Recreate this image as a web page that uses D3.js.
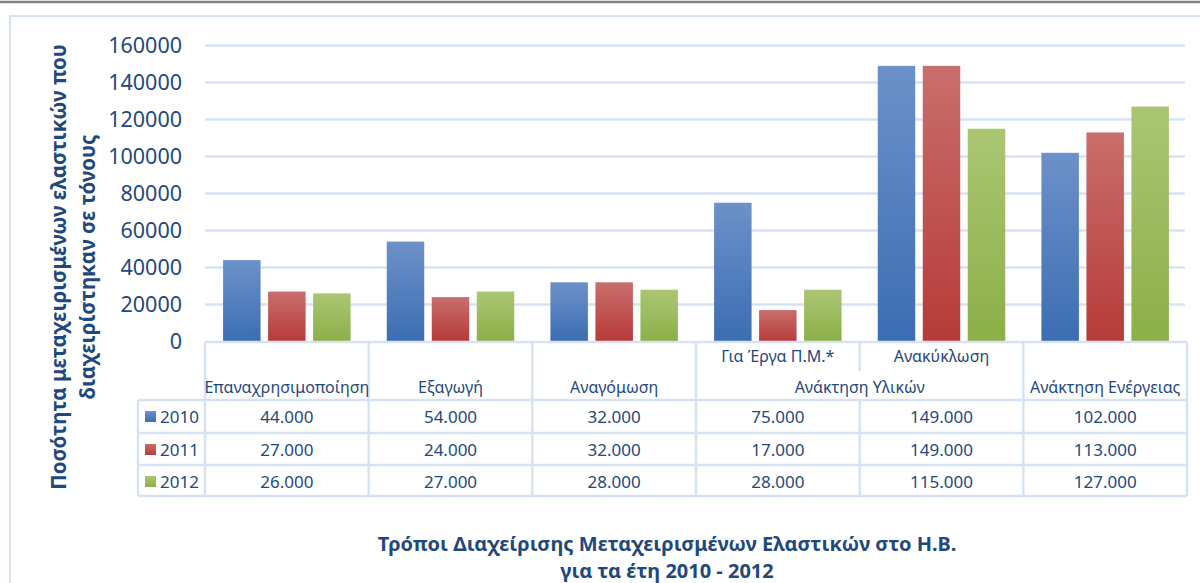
<!DOCTYPE html>
<html>
<head>
<meta charset="utf-8">
<script src="https://cdn.jsdelivr.net/npm/d3@7"></script>
<style>
  body { margin: 0; background: #fff; }
  svg { display: block; font-family: "Noto Sans", "Open Sans", sans-serif; }
</style>
</head>
<body>
<div id="chart"></div>
<script>
// data
var categories = ["Επαναχρησιμοποίηση", "Εξαγωγή", "Αναγόμωση", "Για Έργα Π.Μ.*", "Ανακύκλωση", "Ανάκτηση Ενέργειας"];
var upperLabels = ["Για Έργα Π.Μ.*", "Ανακύκλωση"];   // these sit on the upper line of the header
var groupLabel = "Ανάκτηση Υλικών";                  // spans the two above
var years = ["2010", "2011", "2012"];
var values2010 = [44000, 54000, 32000, 75000, 149000, 102000];
var values2011 = [27000, 24000, 32000, 17000, 149000, 113000];
var values2012 = [26000, 27000, 28000, 28000, 115000, 127000];
var yTicks = [0, 20000, 40000, 60000, 80000, 100000, 120000, 140000, 160000];
var yTitle = ["Ποσότητα μεταχειρισμένων ελαστικών που", "διαχειρίστηκαν σε τόνους"];
var title = ["Τρόποι Διαχείρισης Μεταχειρισμένων Ελαστικών στο Η.Β.", "για τα έτη 2010 - 2012"];

var series = [values2010, values2011, values2012];

var W = 1200, H = 583;
var textColor = "#1f497d";
var lineColor = "#d7e3f3";

var svg = d3.select("#chart")
  .append("svg")
    .attr("width", W)
    .attr("height", H);

// gradients for each series
var grads = [
  {id: "g2010", top: "#6d91c9", bottom: "#3b6db3"},
  {id: "g2011", top: "#c96e6c", bottom: "#b63b39"},
  {id: "g2012", top: "#abc673", bottom: "#8caf48"}
];
var defs = svg.append("defs");
grads.forEach(function(g) {
  var lg = defs.append("linearGradient")
    .attr("id", g.id)
    .attr("x1", 0).attr("y1", 0).attr("x2", 0).attr("y2", 1);
  lg.append("stop").attr("offset", "0%").attr("stop-color", g.top);
  lg.append("stop").attr("offset", "100%").attr("stop-color", g.bottom);
});

// top grey rule and chart frame
svg.append("line")
  .attr("x1", 0).attr("x2", W)
  .attr("y1", 2).attr("y2", 2)
  .attr("stroke", "#808080")
  .attr("stroke-width", 2.5);

svg.append("rect")
  .attr("x", 10).attr("y", 16)
  .attr("width", W + 20).attr("height", H)
  .attr("fill", "none")
  .attr("stroke", lineColor)
  .attr("stroke-width", 2);

// scales
var x = d3.scaleBand()
  .domain(categories)
  .range([205, 1187])
  .padding(0);

var x1 = d3.scaleBand()
  .domain(years)
  .range([0, x.bandwidth()])
  .paddingInner(0.167)
  .paddingOuter(0.402);

var y = d3.scaleLinear()
  .domain([0, 160000])
  .range([341.5, 45.5]);

// gridlines
svg.append("g")
  .selectAll("line")
  .data(yTicks.slice(1))
  .enter()
  .append("line")
    .attr("x1", 205)
    .attr("x2", 1185)
    .attr("y1", function(d) { return y(d); })
    .attr("y2", function(d) { return y(d); })
    .attr("stroke", lineColor)
    .attr("stroke-width", 2.5);

// Y axis labels
var yAxis = svg.append("g")
  .attr("transform", "translate(182,0)")
  .call(d3.axisLeft(y).tickValues(yTicks).tickFormat(d3.format("d")).tickSize(0).tickPadding(0));
yAxis.select(".domain").remove();
yAxis.selectAll("text")
  .attr("fill", textColor)
  .style("font-size", "21.5px")
  .style("font-family", "'Noto Sans', sans-serif");

// bars
var groups = svg.append("g")
  .selectAll("g")
  .data(categories)
  .enter()
  .append("g")
    .attr("transform", function(d) { return "translate(" + x(d) + ",0)"; });

groups.selectAll("rect")
  .data(function(d, i) { return years.map(function(yr, k) { return {year: yr, value: series[k][i], k: k}; }); })
  .enter()
  .append("rect")
    .attr("x", function(d) { return x1(d.year); })
    .attr("y", function(d) { return y(d.value); })
    .attr("width", x1.bandwidth())
    .attr("height", function(d) { return y(0) - y(d.value); })
    .attr("fill", function(d) { return "url(#" + grads[d.k].id + ")"; });

// ---------------------------//
//       DATA TABLE           //
// ---------------------------//
var headTop = 342, headBottom = 400, tableLeft = 138;
var rowTops = [400, 433, 465];
var tableBottom = 496;
var splitY = 371;

var table = svg.append("g")
  .attr("stroke", lineColor)
  .attr("stroke-width", 2.5);

// header top (category axis line)
table.append("line")
  .attr("x1", 205).attr("x2", 1187)
  .attr("y1", headTop).attr("y2", headTop);

// row lines
table.selectAll("hrow")
  .data(rowTops.concat([tableBottom]))
  .enter()
  .append("line")
    .attr("x1", tableLeft).attr("x2", 1187)
    .attr("y1", function(d) { return d; })
    .attr("y2", function(d) { return d; });

// vertical lines
var edges = categories.map(function(c) { return x(c); }).concat([x.range()[1]]);
table.selectAll("vcol")
  .data(edges)
  .enter()
  .append("line")
    .attr("x1", function(d) { return d; })
    .attr("x2", function(d) { return d; })
    .attr("y1", function(d, i) { return i === 4 ? headBottom : headTop; })
    .attr("y2", tableBottom);
// short divider between the two sub-headers
table.append("line")
  .attr("x1", x(upperLabels[1])).attr("x2", x(upperLabels[1]))
  .attr("y1", headTop).attr("y2", splitY);
// legend column left edge
table.append("line")
  .attr("x1", tableLeft).attr("x2", tableLeft)
  .attr("y1", headBottom).attr("y2", tableBottom);

// header labels
svg.append("g")
  .selectAll("text")
  .data(categories)
  .enter()
  .append("text")
    .attr("x", function(d) { return x(d) + x.bandwidth() / 2; })
    .attr("y", function(d) { return upperLabels.indexOf(d) >= 0 ? 362 : 393; })
    .attr("text-anchor", "middle")
    .attr("fill", textColor)
    .style("font-size", "16px")
    .text(function(d) { return d; });

svg.append("text")
  .attr("x", x(upperLabels[1]))
  .attr("y", 393)
  .attr("text-anchor", "middle")
  .attr("fill", textColor)
  .style("font-size", "16px")
  .text(groupLabel);

// value rows
var fmt = d3.formatLocale({decimal: ",", thousands: ".", grouping: [3], currency: ["", ""]}).format(",");
var rows = svg.append("g")
  .selectAll("g")
  .data(years)
  .enter()
  .append("g")
    .attr("transform", function(d, i) { return "translate(0," + rowTops[i] + ")"; });

rows.selectAll("text")
  .data(function(d, i) { return series[i]; })
  .enter()
  .append("text")
    .attr("x", function(d, i) { return x(categories[i]) + x.bandwidth() / 2; })
    .attr("y", 23)
    .attr("text-anchor", "middle")
    .attr("fill", textColor)
    .style("font-size", "17px")
    .text(function(d) { return fmt(d); });

// legend keys
rows.append("rect")
  .attr("x", 145)
  .attr("y", 11)
  .attr("width", 11)
  .attr("height", 11)
  .attr("fill", function(d, i) { return "url(#" + grads[i].id + ")"; });

rows.append("text")
  .attr("x", 160)
  .attr("y", 23)
  .attr("fill", textColor)
  .style("font-size", "17px")
  .text(function(d) { return d; });

// Y axis title
var yt = svg.append("text")
  .attr("transform", "translate(0,267) rotate(-90)")
  .attr("text-anchor", "middle")
  .attr("fill", textColor)
  .style("font-size", "20.5px")
  .style("font-weight", "bold");
yt.selectAll("tspan")
  .data(yTitle)
  .enter()
  .append("tspan")
    .attr("x", 0)
    .attr("y", function(d, i) { return 66 + i * 29; })
    .text(function(d) { return d; });

// chart title
svg.append("g")
  .selectAll("text")
  .data(title)
  .enter()
  .append("text")
    .attr("x", 667)
    .attr("y", function(d, i) { return 551 + i * 27; })
    .attr("text-anchor", "middle")
    .attr("fill", textColor)
    .style("font-size", "20px")
    .style("font-weight", "bold")
    .text(function(d) { return d; });
</script>
</body>
</html>
